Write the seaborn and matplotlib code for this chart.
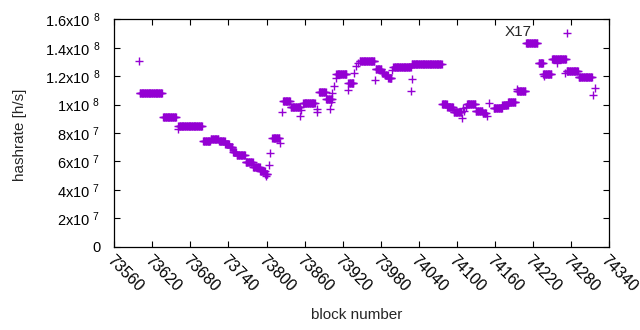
import numpy as np
import pandas as pd
import matplotlib
matplotlib.use("Agg")
import matplotlib.pyplot as plt
import seaborn as sns

# runs of blocks that share one hashrate value (start block, end block, h/s)
seg_start = [73600, 73637, 73661, 73700, 73712, 73725, 73735, 73742, 73747, 73753,
             73767, 73779, 73790, 73798, 73809, 73826, 73838, 73858, 73883, 73894,
             73910, 73929, 73947, 73972, 73982, 73987, 73992, 74000, 74029, 74077,
             74085, 74095, 74116, 74130, 74141, 74158, 74172, 74181, 74195, 74209,
             74229, 74236, 74250, 74273, 74292]
seg_end = [73635, 73657, 73698, 73711, 73724, 73734, 73741, 73746, 73752, 73766,
           73778, 73789, 73797, 73801, 73820, 73837, 73853, 73876, 73893, 73903,
           73926, 73937, 73970, 73981, 73986, 73991, 73997, 74027, 74076, 74084,
           74094, 74107, 74129, 74140, 74146, 74171, 74180, 74192, 74208, 74227,
           74236, 74249, 74272, 74291, 74313]
seg_rate = [108.0e6, 91.1e6, 84.7e6, 74.4e6, 75.8e6, 74.2e6, 72.1e6, 70.2e6, 66.9e6, 64.5e6,
            59.6e6, 56.3e6, 53.5e6, 51.2e6, 76.3e6, 102.5e6, 98.1e6, 100.9e6, 108.6e6, 104.0e6,
            121.3e6, 115.0e6, 130.7e6, 124.8e6, 122.4e6, 120.5e6, 118.5e6, 126.5e6, 128.4e6, 100.2e6,
            98.5e6, 95.0e6, 100.4e6, 95.3e6, 93.8e6, 97.4e6, 99.7e6, 102.0e6, 109.6e6, 143.1e6,
            129.1e6, 121.3e6, 131.9e6, 123.9e6, 119.2e6]

# isolated blocks
pt_block = [73599, 73660, 73799, 73804, 73806, 73822, 73825, 73852, 73855, 73879,
            73880, 73900, 73902, 73904, 73907, 73909, 73928, 73938, 73941, 73944,
            73971, 73998, 74028, 74030, 74108, 74110, 74112, 74114, 74147, 74151,
            74195, 74238, 74258, 74271, 74274, 74314, 74318]
pt_rate = [130.9e6, 82.6e6, 49.7e6, 57.3e6, 65.7e6, 72.8e6, 94.6e6, 92.0e6, 96.5e6, 94.6e6,
           96.7e6, 96.7e6, 102.0e6, 108.4e6, 113.1e6, 118.5e6, 110.3e6, 122.4e6, 127.2e6, 129.0e6,
           117.3e6, 124.3e6, 109.4e6, 117.8e6, 90.4e6, 97.5e6, 95.5e6, 98.0e6, 92.0e6, 100.9e6,
           111.0e6, 120.0e6, 129.0e6, 122.0e6, 150.6e6, 106.8e6, 111.5e6]

y_ticks = [0, 2e7, 4e7, 6e7, 8e7, 1e8, 1.2e8, 1.4e8, 1.6e8]
y_labels = ["0", "2x10 $^{7}$", "4x10 $^{7}$", "6x10 $^{7}$", "8x10 $^{7}$",
            "1x10 $^{8}$", "1.2x10 $^{8}$", "1.4x10 $^{8}$", "1.6x10 $^{8}$"]
x_ticks = list(range(73560, 74341, 60))

blocks = [np.arange(s, e + 1) for s, e in zip(seg_start, seg_end)]
rates = [np.full(len(b), r) for b, r in zip(blocks, seg_rate)]
df = pd.DataFrame({
    "block": np.concatenate(blocks + [np.array(pt_block)]),
    "hashrate": np.concatenate(rates + [np.array(pt_rate)]),
})

sns.set_theme(style="ticks")
plt.rcParams["font.family"] = ["Liberation Sans", "DejaVu Sans"]
plt.rcParams["mathtext.fontset"] = "custom"
plt.rcParams["mathtext.rm"] = "Liberation Sans"
plt.rcParams["mathtext.default"] = "regular"

fig = plt.figure(figsize=(6.4, 3.3), dpi=100)
ax = fig.add_axes([0.1786, 0.2524, 0.7730, 0.6891])

sns.scatterplot(data=df, x="block", y="hashrate", marker="+", color="#9400d3",
                s=28, linewidth=1.0, ax=ax, legend=False)

ax.set_xlim(73560, 74340)
ax.set_ylim(0, 1.6e8)
ax.set_xticks(x_ticks)
ax.set_xticklabels([str(t) for t in x_ticks], rotation=-45, ha="left", va="top",
                   rotation_mode="anchor", fontsize=11.5)
ax.set_yticks(y_ticks)
ax.set_yticklabels(y_labels, fontsize=10.5)
ax.tick_params(axis="both", direction="in", top=True, right=True, length=4,
               width=0.8, colors="black")
ax.tick_params(axis="y", pad=10)
ax.tick_params(axis="x", pad=4)
for sp in ax.spines.values():
    sp.set_color("black")
    sp.set_linewidth(0.9)
    sp.set_visible(True)

ax.set_xlabel("block number", fontsize=11, va="center")
ax.set_ylabel("hashrate [h/s]", fontsize=11, va="center")
ax.xaxis.set_label_coords(0.49, -0.30)
ax.yaxis.set_label_coords(-0.19, 0.49)
ax.text(74176, 151.4e6, "X17", ha="left", va="center", fontsize=11)

fig.savefig("out.png", dpi=100)
